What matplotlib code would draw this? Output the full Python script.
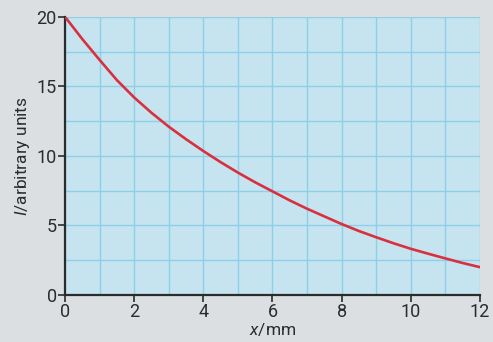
import numpy as np
import matplotlib.pyplot as plt
from matplotlib.ticker import MultipleLocator

# Values (every 0.5 mm)
x_mm = [0, 0.5, 1, 1.5, 2, 2.5, 3, 3.5, 4, 4.5, 5, 5.5, 6,
        6.5, 7, 7.5, 8, 8.5, 9, 9.5, 10, 10.5, 11, 11.5, 12]
intensity = [20, 18.4, 16.9, 15.45, 14.2, 13.1, 12.1, 11.2, 10.35, 9.55, 8.8, 8.1, 7.45,
             6.8, 6.2, 5.65, 5.1, 4.6, 4.15, 3.72, 3.32, 2.97, 2.63, 2.3, 2.0]

x_ticks = [0, 2, 4, 6, 8, 10, 12]
y_ticks = [0, 5, 10, 15, 20]

plt.rcParams['font.family'] = ['Roboto', 'DejaVu Sans']
plt.rcParams['mathtext.fontset'] = 'custom'
plt.rcParams['mathtext.it'] = 'Roboto:italic'
plt.rcParams['mathtext.rm'] = 'Roboto'

bg = '#dcdfe1'
ink = '#2b2b2b'

fig = plt.figure(figsize=(4.93, 3.42), dpi=100, facecolor=bg)
ax = fig.add_axes([0.1318, 0.1374, 0.9736 - 0.1318, 0.951 - 0.1374])
ax.set_facecolor('#c6e3f0')

ax.plot(x_mm, intensity, color='#d8303e', lw=1.9, solid_capstyle='round', zorder=3)

ax.set_xlim(0, 12)
ax.set_ylim(0, 20)
ax.set_xticks(x_ticks)
ax.set_yticks(y_ticks)
ax.xaxis.set_minor_locator(MultipleLocator(1))
ax.yaxis.set_minor_locator(MultipleLocator(2.5))
ax.grid(which='both', color='#8ccfe6', lw=1.0, zorder=1)
ax.set_axisbelow(True)

for side in ['top', 'right']:
    ax.spines[side].set_visible(False)
for side in ['left', 'bottom']:
    ax.spines[side].set_color(ink)
    ax.spines[side].set_linewidth(1.6)

ax.tick_params(which='major', direction='out', length=5, width=1.2, color=ink,
               labelsize=13, labelcolor=ink, pad=1)
ax.tick_params(which='minor', length=0)

ax.set_xlabel('$x$/mm', fontsize=12.5, color=ink, labelpad=0)
ax.set_ylabel('$I$/arbitrary units', fontsize=12.5, color=ink, labelpad=3)

fig.savefig('out.png', dpi=100, facecolor=bg)
